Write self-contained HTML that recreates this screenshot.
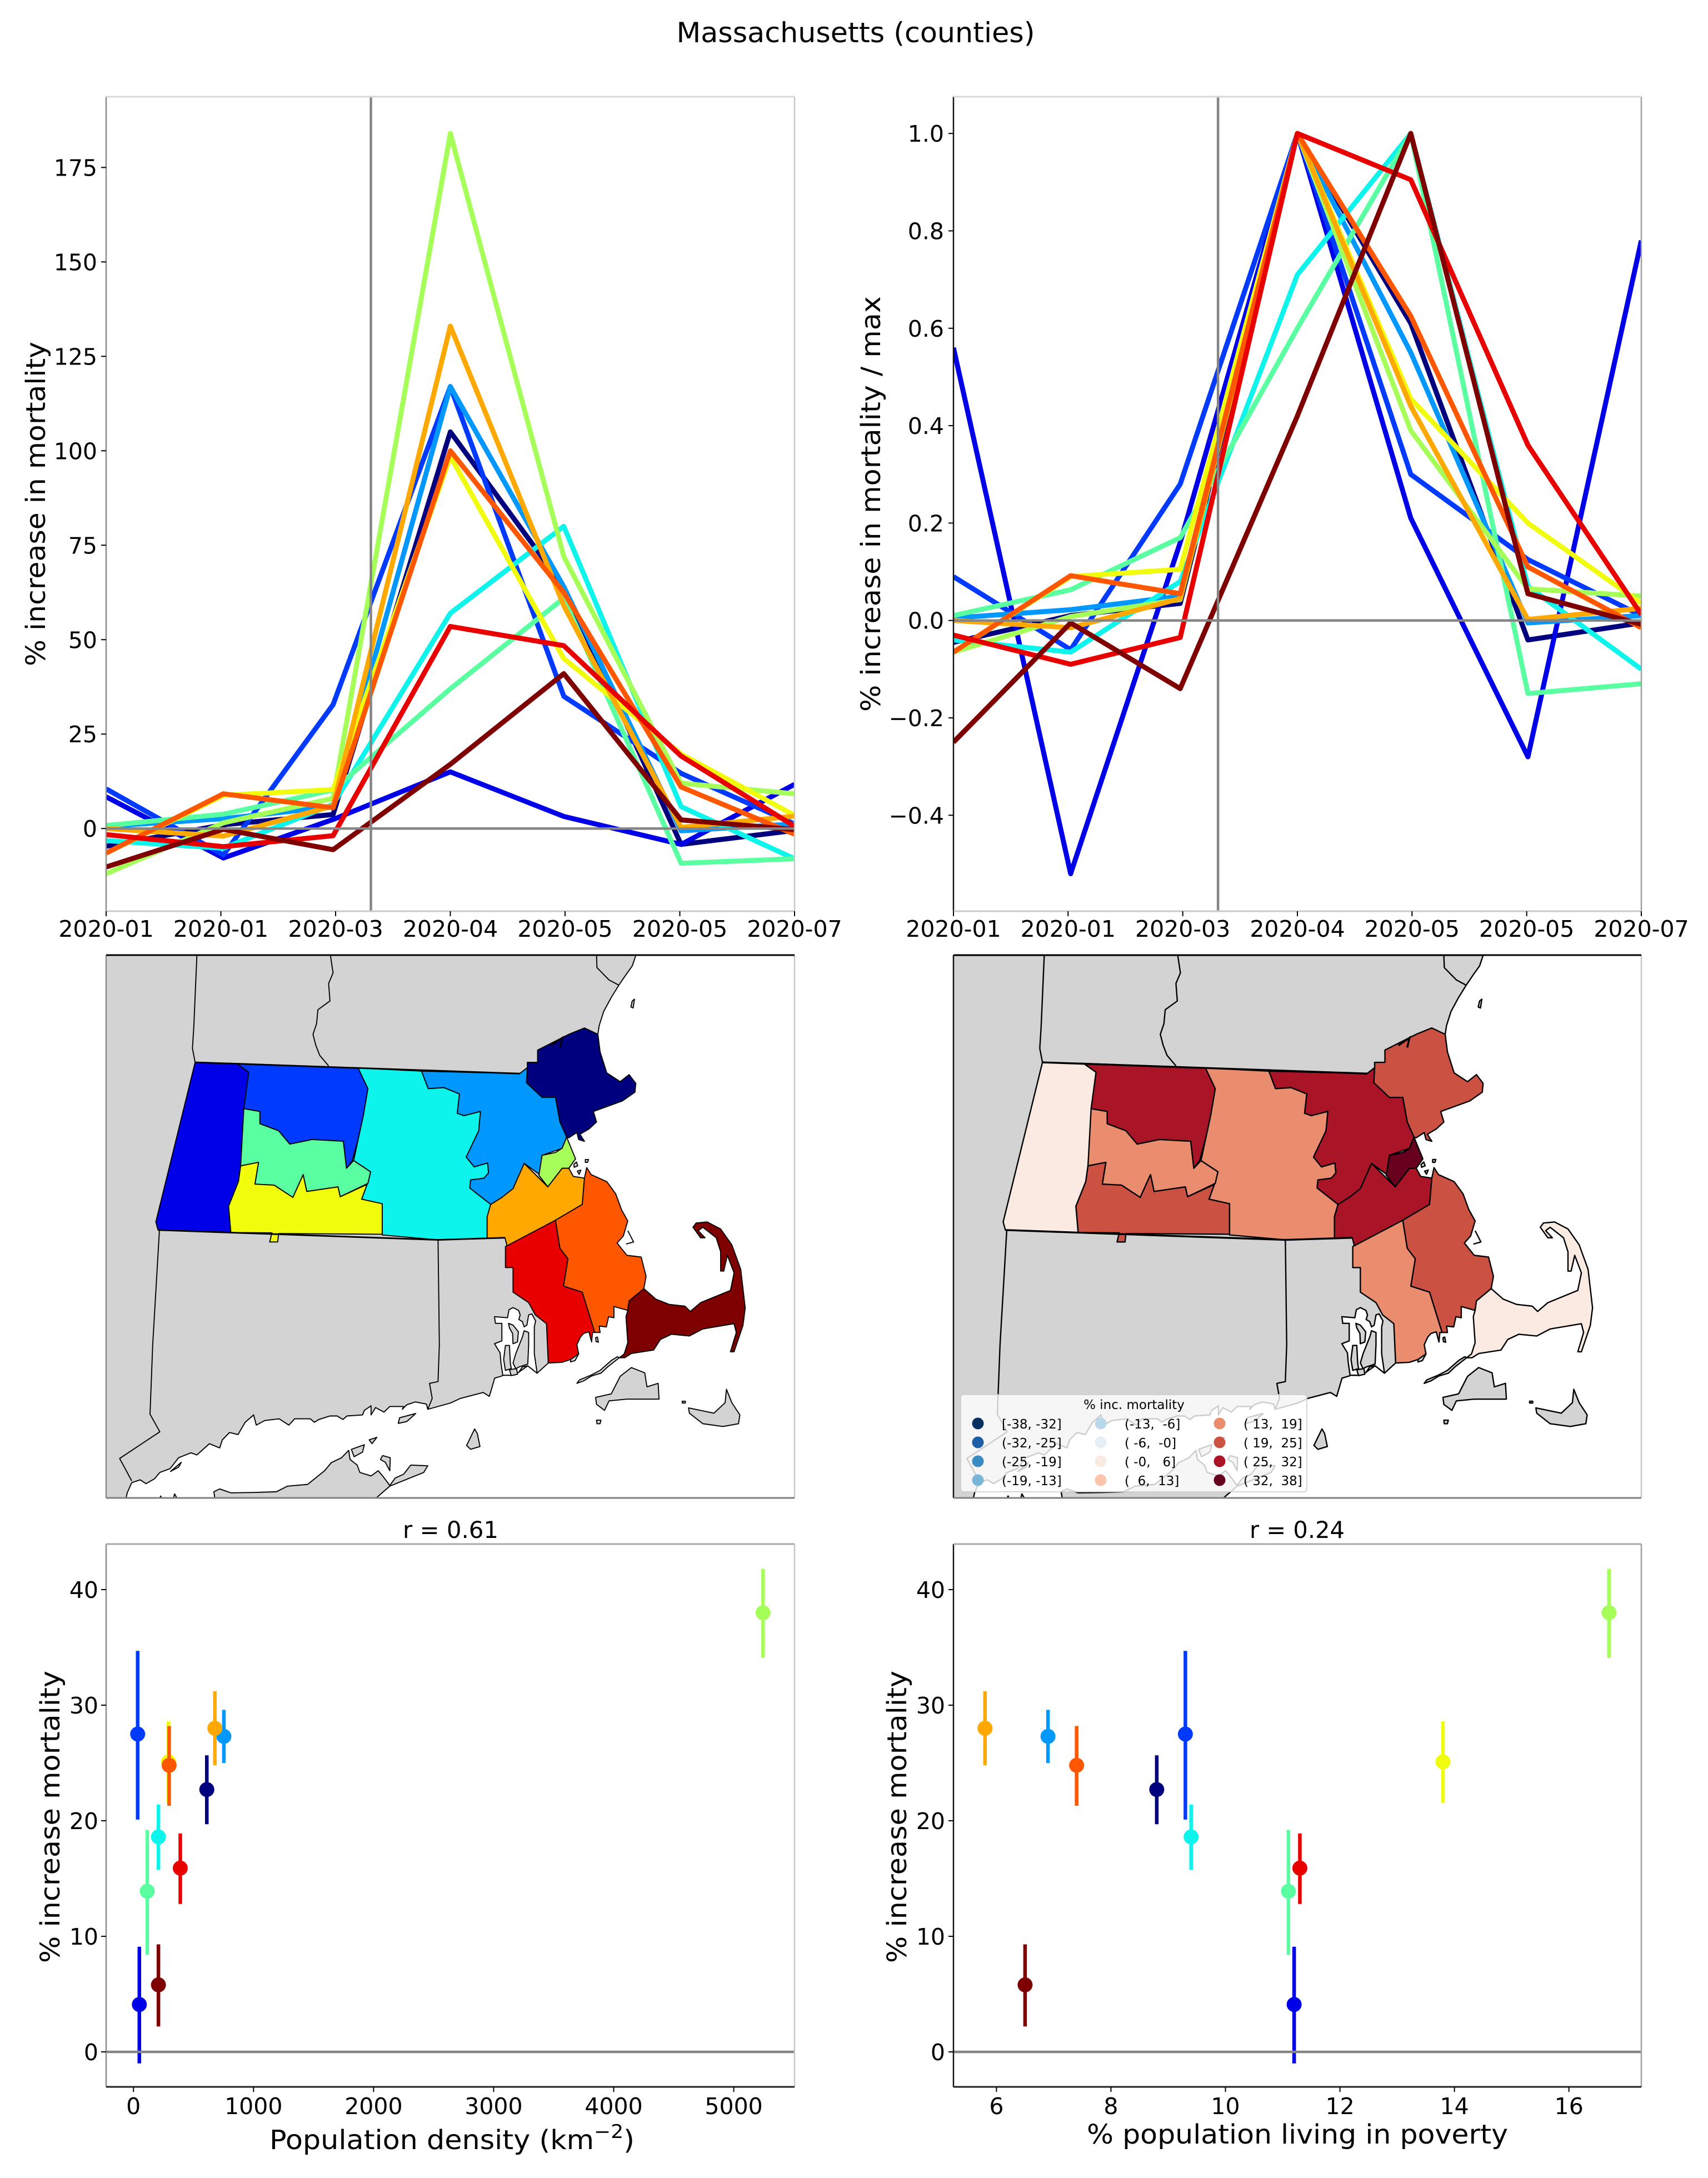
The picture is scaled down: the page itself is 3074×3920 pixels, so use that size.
<!DOCTYPE html>
<html lang="en">
<head>
<meta charset="utf-8">
<title>Massachusetts (counties)</title>
<style>
html,body{margin:0;padding:0;background:#fff;}
svg{display:block;}
text{font-family:"DejaVu Sans","Liberation Sans",sans-serif;fill:#000;}
</style>
</head>
<body>
<svg id="fig" xmlns="http://www.w3.org/2000/svg" width="3074" height="3920" viewBox="0 0 3074 3920">
  <defs>
    <clipPath id="clip-tl"><rect x="191" y="174" width="1239" height="1466"/></clipPath>
    <clipPath id="clip-tr"><rect x="1716" y="174" width="1238" height="1466"/></clipPath>
    <clipPath id="clip-ml"><rect x="191" y="1719" width="1239" height="977"/></clipPath>
    <clipPath id="clip-mr"><rect x="1716" y="1719" width="1238" height="977"/></clipPath>
  </defs>
  <rect x="0" y="0" width="3074" height="3920" fill="#fff"/>
  <text x="1540" y="76" font-size="50" text-anchor="middle" textLength="645" lengthAdjust="spacingAndGlyphs">Massachusetts (counties)</text>

  <g id="panel-tl"></g>
  <g id="panel-tr"></g>
  <g id="panel-ml"></g>
  <g id="panel-mr"></g>
  <g id="panel-bl"></g>
  <g id="panel-br"></g>

  <text transform="translate(81 1199) rotate(-90)" font-size="48" textLength="584" lengthAdjust="spacingAndGlyphs">% increase in mortality</text>
  <text transform="translate(1584 1281) rotate(-90)" font-size="48" textLength="748" lengthAdjust="spacingAndGlyphs">% increase in mortality / max</text>
  <text transform="translate(107 3533) rotate(-90)" font-size="48" textLength="526" lengthAdjust="spacingAndGlyphs">% increase mortality</text>
  <text transform="translate(1631 3533) rotate(-90)" font-size="48" textLength="526" lengthAdjust="spacingAndGlyphs">% increase mortality</text>
  <text x="485" y="3868" font-size="48" textLength="657" lengthAdjust="spacingAndGlyphs">Population density (km<tspan dy="-20" font-size="34">−2</tspan><tspan dy="20">)</tspan></text>
  <text x="1956" y="3858" font-size="48" textLength="758" lengthAdjust="spacingAndGlyphs">% population living in poverty</text>
  <text x="725" y="2768" font-size="42" textLength="172" lengthAdjust="spacingAndGlyphs">r = 0.61</text>
  <text x="2249" y="2768" font-size="42" textLength="171" lengthAdjust="spacingAndGlyphs">r = 0.24</text>
</svg>

<script>
// ---------- shared data ----------
const counties = ['essex','berkshire','franklin','middlesex','worcester','hampshire','suffolk','hampden','norfolk','plymouth','bristol','barnstable'];
const countyColors = ['#00007f','#0000e8','#003aff','#0097ff','#0cf4eb','#59ffa0','#a6ff59','#f1fc0c','#ffa800','#ff5700','#e80000','#7f0000'];

// days since 2020-01-01 of each monthly sample
const sampleDays = [0,31,60,91,121,152,182];
const xTickLabels = ['2020-01','2020-01','2020-03','2020-04','2020-05','2020-05','2020-07'];
const xTickDays = [0,30.33,60.67,91,121.33,151.67,182];
const emergencyDay = [70];

// top-left chart: % increase in mortality
const rawEssex      = [-4.7,1,3.7,105,64,-4.2,-0.5];
const rawBerkshire  = [8.4,-7.8,2.4,15,3.2,-4.2,11.7];
const rawFranklin   = [10.5,-7,32.8,117,35,14.6,1.2];
const rawMiddlesex  = [0.6,2.6,5.8,117,64,-0.6,1.2];
const rawWorcester  = [-3.2,-5.2,6.4,57,80,5.8,-8];
const rawHampshire  = [0.8,3.8,10.2,37,61,-9.2,-8];
const rawSuffolk    = [-12,1.5,8,184,72,12,9.2];
const rawHampden    = [-6.5,8.8,10.3,98.5,45,19.7,3.5];
const rawNorfolk    = [0,-2,6,133,59,0.3,3.3];
const rawPlymouth   = [-6.5,9.2,5.5,100,62.5,11,-1.5];
const rawBristol    = [-1.6,-4.8,-1.9,53.5,48.4,19.2,0.6];
const rawBarnstable = [-10.2,-0.2,-5.6,17,41,2.3,-0.3];
const rawSeries = [rawEssex,rawBerkshire,rawFranklin,rawMiddlesex,rawWorcester,rawHampshire,rawSuffolk,rawHampden,rawNorfolk,rawPlymouth,rawBristol,rawBarnstable];
const rawYTicks = [0,25,50,75,100,125,150,175];

// top-right chart: % increase in mortality / max
const normEssex      = [-0.045,0.01,0.035,1,0.61,-0.04,-0.005];
const normBerkshire  = [0.56,-0.52,0.16,1,0.21,-0.28,0.78];
const normFranklin   = [0.09,-0.06,0.28,1,0.3,0.125,0.01];
const normMiddlesex  = [0.005,0.022,0.05,1,0.55,-0.005,0.01];
const normWorcester  = [-0.04,-0.065,0.08,0.71,1,0.07,-0.1];
const normHampshire  = [0.01,0.063,0.17,0.6,1,-0.15,-0.13];
const normSuffolk    = [-0.065,0.008,0.043,1,0.39,0.065,0.05];
const normHampden    = [-0.065,0.09,0.105,1,0.455,0.2,0.035];
const normNorfolk    = [0,-0.015,0.045,1,0.44,0.002,0.025];
const normPlymouth   = [-0.065,0.092,0.055,1,0.625,0.11,-0.015];
const normBristol    = [-0.03,-0.09,-0.035,1,0.905,0.36,0.012];
const normBarnstable = [-0.25,-0.005,-0.14,0.42,1,0.055,-0.008];
const normSeries = [normEssex,normBerkshire,normFranklin,normMiddlesex,normWorcester,normHampshire,normSuffolk,normHampden,normNorfolk,normPlymouth,normBristol,normBarnstable];
const normYTicks = [-0.4,-0.2,0,0.2,0.4,0.6,0.8,1];

// scatter charts
const mortality     = [22.7,4.1,27.5,27.3,18.6,13.9,38,25.1,28,24.8,15.9,5.8];
const mortalityLow  = [19.7,-1,20.1,25,15.75,8.4,34.1,21.55,24.8,21.3,12.8,2.2];
const mortalityHigh = [25.66,9.1,34.7,29.6,21.4,19.2,41.8,28.6,31.2,28.2,18.9,9.3];
const density       = [611,49,35,753,208,115,5244,292,678,297,390,208];
const poverty       = [8.8,11.2,9.3,6.9,9.4,11.1,16.7,13.8,5.8,7.4,11.3,6.5];
const scatterYTicks = [0,10,20,30,40];
const densityTicks  = [0,1000,2000,3000,4000,5000];
const povertyTicks  = [6,8,10,12,14,16];

// choropleth legend
const binEdges = [-38,-31.67,-25.33,-19,-12.67,-6.33,0,6.33,12.67,19,25.33,31.67,38];
const binColors = ['#053061','#1c5ea8','#3a8bc2','#7ab6d9','#b9d8ea','#e6eff5','#fbeae2','#fcc5ab','#ea8d6e','#cb5143','#a91427','#67001f'];
const binLabels = ['[-38, -32]','(-32, -25]','(-25, -19]','(-19, -13]','(-13,  -6]','( -6,  -0]','( -0,   6]','(  6,  13]','( 13,  19]','( 19,  25]','( 25,  32]','( 32,  38]'];

// county outlines, in map units
const countyShapes = [
 'M957,335 L957,320 L980,320 L980,285 L1050,240 L1085,222 L1115,240 L1120,290 L1135,350 L1165,375 L1185,355 L1200,380 L1198,405 L1170,430 L1105,460 L1112,490 L1095,510 L1075,525 L1085,545 L1072,540 L1068,520 L1050,535 L1045,533 L1030,490 L1020,420 L990,420 L955,378 Z',
 'M213,320 L305,323 L333,348 L325,450 L315,615 L310,660 L288,730 L293,805 L130,798 L125,775 Z',
 'M305,323 L578,336 L600,395 L590,470 L578,540 L565,600 L552,622 L545,545 L475,540 L425,553 L400,515 L358,495 L358,460 L322,452 L333,348 Z',
 'M720,345 L940,352 L957,335 L955,378 L990,420 L1020,420 L1030,490 L1045,533 L1035,565 L990,585 L985,640 L950,608 L925,680 L900,705 L875,725 L828,678 L830,655 L860,650 L870,635 L868,607 L838,618 L820,590 L848,515 L852,460 L815,472 L800,465 L805,410 L770,392 L735,395 Z',
 'M578,336 L720,345 L735,395 L770,392 L805,410 L800,465 L815,472 L852,460 L848,515 L820,590 L838,618 L868,607 L870,635 L860,650 L830,655 L828,678 L875,725 L867,760 L867,822 L757,826 L632,812 L632,723 L586,710 L598,668 L606,632 L568,600 L590,470 L600,395 Z',
 'M322,452 L358,460 L358,495 L400,515 L425,553 L475,540 L545,545 L552,622 L568,600 L606,632 L600,665 L538,703 L533,675 L463,688 L455,640 L432,705 L390,670 L347,667 L355,605 L315,615 Z',
 'M1045,533 L1065,595 L1050,622 L1035,622 L1003,675 L983,642 L990,585 L1020,577 L1035,565 Z',
 'M315,615 L355,605 L347,667 L390,670 L432,705 L455,640 L463,688 L533,675 L538,703 L598,668 L586,710 L632,723 L632,810 L400,808 L398,832 L380,832 L385,806 L293,805 L288,730 L310,660 Z',
 'M950,608 L1003,675 L1035,622 L1050,622 L1060,645 L1085,650 L1080,725 L1020,770 L912,845 L907,820 L867,822 L867,760 L875,725 L900,705 L925,680 Z',
 'M1090,620 L1100,640 L1135,660 L1155,695 L1168,740 L1182,772 L1172,815 L1158,835 L1180,870 L1212,875 L1223,930 L1218,965 L1185,1000 L1182,1027 L1151,1016 L1151,1048 L1139,1045 L1134,1074 L1118,1072 L1120,1090 L1108,1090 L1080,975 L1038,958 L1048,880 L1030,850 L1020,770 L1080,725 L1085,650 Z',
 'M1020,770 L1030,850 L1048,880 L1038,958 L1080,975 L1108,1090 L1103,1090 L1101,1117 L1095,1088 L1083,1093 L1076,1103 L1068,1125 L1072,1151 L1054,1167 L1035,1175 L1004,1177 L1000,1065 L975,1040 L960,1005 L925,975 L925,905 L908,905 L908,845 Z',
 'M1218,965 L1245,995 L1275,1010 L1310,1015 L1322,1030 L1345,1005 L1412,970 L1420,920 L1405,870 L1397,915 L1390,915 L1390,860 L1380,820 L1350,790 L1340,800 L1355,820 L1345,820 L1328,790 L1335,778 L1360,775 L1390,795 L1415,840 L1435,910 L1445,1020 L1440,1070 L1420,1145 L1412,1145 L1425,1090 L1420,1065 L1350,1080 L1320,1100 L1280,1095 L1255,1110 L1240,1140 L1190,1150 L1175,1162 L1163,1162 L1174,1151 L1182,1119 L1178,1045 L1182,1027 L1185,1000 Z'
];

// surrounding land, water and state lines, in map units
const landShape = 'M14,15 L1200,15 L1192,45 L1178,70 L1162,100 L1145,135 L1128,175 L1118,215 L1115,240 L1000,500 L1000,1060 L1004,1177 L979,1206 L958,1185 L937,1204 L902,1212 L900,1214 L884,1220 L872,1272 L858,1261 L807,1278 L785,1291 L734,1309 L731,1294 L706,1288 L687,1296 L677,1309 L680,1301 L649,1301 L636,1317 L617,1304 L607,1325 L607,1299 L592,1312 L588,1325 L553,1328 L544,1338 L531,1328 L515,1328 L490,1338 L480,1346 L471,1336 L436,1336 L423,1354 L401,1336 L369,1341 L350,1354 L344,1325 L325,1346 L309,1381 L290,1375 L274,1396 L268,1419 L245,1407 L217,1439 L204,1433 L176,1447 L157,1478 L134,1489 L122,1507 L103,1521 L90,1510 L71,1518 L61,1547 L57,1570 L0,1570 L0,15 Z';
const bayShape = 'M883.5,1045 L912.6,1048 L916,1025 L925,1019 L937.5,1027 L941,1040 L938,1053 L946,1059 L950,1074 L956,1069 L960,1040 L967,1037 L975.6,1057 L972.7,1074 L972.7,1151 L979,1206 L958,1185 L946,1188 L937.5,1204 L919,1212 L902,1212 L898,1177 L896,1148 L883.5,1122 L900,1114 L900,1064 L885.6,1064 Z';
const waterHoles = [
 'M1050,595 L1065,595 L1085,625 L1087,645 L1070,652 L1050,622 Z'
];
const islandShapes = [
 'M950,1085 L960,1090 L960,1125 L958,1180 L939,1188 L931,1193 L925,1177 L931,1151 L946,1103 Z',
 'M908,1127 L917,1127 L919,1177 L921,1193 L908,1198 L904,1167 Z',
 'M915,1064 L925,1069 L937,1088 L935,1117 L925,1122 L924,1093 L917,1077 Z',
 'M917,1196 L933,1193 L935,1209 L921,1213 Z',
 'M1163,1162 L1137,1188 L1122,1206 L1101,1214 L1083,1228 L1068,1235 L1074,1225 L1099,1212 L1120,1198 L1145,1170 L1159,1159 Z',
 'M1054,1167 L1072,1151 L1064,1170 L1054,1174 Z',
 'M1190,1190 L1220,1205 L1225,1245 L1250,1235 L1252,1280 L1180,1280 L1140,1285 L1130,1312 L1112,1295 L1110,1275 L1145,1265 L1165,1215 Z',
 'M1403,1252 L1415,1290 L1433,1325 L1430,1350 L1395,1358 L1350,1350 L1320,1320 L1318,1305 L1375,1320 L1400,1290 Z',
 'M839,1365 L845,1378 L851,1415 L830,1423 L821,1412 Z',
 'M668,1349 L671,1333 L707,1321 L687,1344 Z',
 'M258,1570 L255,1544 L268,1536 L293,1547 L344,1546 L395,1544 L420,1528 L465,1523 L503,1484 L518,1461 L541,1447 L557,1426 L560,1452 L576,1468 L582,1489 L607,1499 L623,1484 L633,1499 L649,1526 L661,1505 L680,1494 L696,1468 L734,1470 L725,1489 L649,1528 L611,1570 Z',
 'M563,1423 L592,1410 L588,1431 L569,1444 Z',
 'M603,1396 L620,1389 L609,1407 Z',
 'M628,1452 L633,1441 L650,1447 L649,1484 L639,1460 Z',
 'M158,1486 L182,1460 L176,1474 Z',
 'M1112,1340 L1122,1340 L1120,1350 L1113,1350 Z',
 'M1304,1286 L1311,1286 L1311,1291 L1304,1291 Z',
 'M1192,145 L1197,140 L1194,165 L1189,162 Z',
 'M1061,611 L1067,604 L1070,615 L1062,619 Z',
 'M1087,597 L1094,597 L1092,605 L1087,605 Z',
 'M1069,630 L1077,627 L1073,639 Z',
 'M131,1570 L136,1556 L141,1570 Z',
 'M163,1570 L167,1550 L176,1570 Z',
 'M1110,1105 L1114,1103 L1116,1118 L1111,1116 Z'
];
const stateLines = [
 'M217,15 L210,220 L207,280 L213,320',
 'M516,15 L522,65 L512,95 L515,145 L488,170 L485,210 L477,240 L483,270 L492,300 L512,330',
 'M1112,15 L1113,50 L1140,85 L1162,100',
 'M133,800 L118,1125 L112,1323 L134,1373 L44,1449 L71,1513',
 'M757,820 L760,1125 L757,1230 L738,1235 L744,1278 L734,1309',
 'M1182,800 L1195,832 L1178,838'
];

// ---------- helpers ----------
const NS = 'http://www.w3.org/2000/svg';
function mk(tag, attrs, parent) {
  const el = document.createElementNS(NS, tag);
  for (const k in attrs) el.setAttribute(k, attrs[k]);
  parent.appendChild(el);
  return el;
}
function linear(d0, d1, r0, r1) {
  return function (v) { return r0 + (v - d0) * (r1 - r0) / (d1 - d0); };
}
function tickText(v) {
  return String(v).replace('-', '\u2212');
}

function drawXTicks(g, scale, ticks, labels, y0, baseline, size) {
  ticks.forEach(function (t, i) {
    const x = scale(t);
    const tick = mk('line', {x1:x, x2:x, y1:y0, y2:y0 + 9, stroke:'#000', 'stroke-width':2}, g);
    
    
    const label = mk('text', {x:x, y:baseline, 'font-size':size, 'text-anchor':'middle'}, g);
    
    
    label.textContent = labels[i];
  });
}
function drawYTicks(g, scale, ticks, labels, x0, labelRight, size) {
  ticks.forEach(function (t, i) {
    const y = scale(t);
    const tick = mk('line', {x1:x0 - 9, x2:x0, y1:y, y2:y, stroke:'#000', 'stroke-width':2}, g);
    
    
    const label = mk('text', {x:labelRight, y:y + 15, 'font-size':size, 'text-anchor':'end'}, g);
    
    
    label.textContent = labels[i];
  });
}
function drawSpines(g, L, T, R, B, colors) {
  const sides = [
    ['spine-left', L, T, L, B, colors.left, 2.5],
    ['spine-right', R, T, R, B, colors.right, 2.5],
    ['spine-top', L, T, R, T, colors.top, 3],
    ['spine-bottom', L, B, R, B, colors.bottom, 3]
  ];
  sides.forEach(function (s) {
    const line = mk('line', {x1:s[1], y1:s[2], x2:s[3], y2:s[4], stroke:s[5], 'stroke-width':s[6]}, g);
    
    
  });
}

// ---------- line charts ----------
function drawLineChart(id, L, R, clipId, series, yScale, yTicks, yLabels, labelRight, spineColors) {
  const g = document.getElementById(id);
  const T = 174, B = 1640;
  const xScale = linear(0, 182, L, R);
  const plot = mk('g', {'clip-path':'url(#' + clipId + ')'}, g);
  series.forEach(function (vals, c) {
    const pts = vals.map(function (v, i) { return xScale(sampleDays[i]).toFixed(1) + ',' + yScale(v).toFixed(1); }).join(' ');
    const line = mk('polyline', {points:pts, fill:'none', stroke:countyColors[c], 'stroke-width':9, 'stroke-linejoin':'round'}, plot);
    
    
  });
  const zero = mk('line', {x1:L, x2:R, y1:yScale(0), y2:yScale(0), stroke:'#858585', 'stroke-width':4.5}, plot);
  
  
  const vx = xScale(emergencyDay[0]);
  const vline = mk('line', {x1:vx, x2:vx, y1:T, y2:B, stroke:'#858585', 'stroke-width':4.5}, plot);
  
  
  drawSpines(g, L, T, R, B, spineColors);
  drawXTicks(g, xScale, xTickDays, xTickLabels, B, 1686, 41);
  drawYTicks(g, yScale, yTicks, yLabels, L, labelRight, 41);
}
drawLineChart('panel-tl', 191, 1430, 'clip-tl', rawSeries, linear(0, 175, 1491.2, 301.4), rawYTicks, rawYTicks.map(tickText), 175,
  {left:'#8c8c8c', right:'#c8c8c8', top:'#d8d8d8', bottom:'#c8c8c8'});
drawLineChart('panel-tr', 1716, 2954, 'clip-tr', normSeries, linear(0, 1, 1116.7, 240.2), normYTicks, normYTicks.map(function (v) { return tickText(v.toFixed(1)); }), 1699,
  {left:'#111', right:'#a0a0a0', top:'#d8d8d8', bottom:'#c8c8c8'});

// ---------- maps ----------
function binColor(v) {
  for (let i = 0; i < binColors.length; i++) {
    if (v <= binEdges[i + 1]) return binColors[i];
  }
  return binColors[binColors.length - 1];
}
function drawMap(id, clipId, tx, strokeW, fillFor, spineColors, L, R) {
  const g = document.getElementById(id);
  const outer = mk('g', {'clip-path':'url(#' + clipId + ')'}, g);
  const m = mk('g', {transform:'translate(' + tx + ' 1710) scale(0.8036 0.6314)'}, outer);
  function shape(d, fill, sw, name) {
    const p = mk('path', {d:d, fill:fill, stroke:'#000', 'stroke-width':sw, 'vector-effect':'non-scaling-stroke', 'stroke-linejoin':'round'}, m);
    
    
    return p;
  }
  shape(landShape, '#d3d3d3', strokeW, 'neighbouring-land');
  shape(bayShape, '#fff', strokeW, 'narragansett-bay');
  waterHoles.forEach(function (d) {
    const hole = mk('path', {d:d, fill:'#fff', stroke:'none'}, m);
    
    
  });
  islandShapes.forEach(function (d) { shape(d, '#d3d3d3', strokeW, 'island'); });
  stateLines.forEach(function (d) { shape(d, 'none', strokeW, 'state-border'); });
  countyShapes.forEach(function (d, c) { shape(d, fillFor(c), strokeW, 'county-' + counties[c]); });
  const border = mk('path', {d:'M213,320 L940,352 M130,798 L757,826 L907,820 M1010,272 L1035,250 L1030,278', fill:'none', stroke:'#000', 'stroke-width':strokeW + 1, 'vector-effect':'non-scaling-stroke'}, m);
  
  
  drawSpines(g, L, 1719, R, 2696, spineColors);
}
drawMap('panel-ml', 'clip-ml', 180, 1.9, function (c) { return countyColors[c]; },
  {left:'#8c8c8c', right:'#c8c8c8', top:'#000', bottom:'#808080'}, 191, 1430);
drawMap('panel-mr', 'clip-mr', 1705, 2.4, function (c) { return binColor(mortality[c]); },
  {left:'#111', right:'#c8c8c8', top:'#000', bottom:'#808080'}, 1716, 2954);

// ---------- choropleth legend ----------
(function () {
  const g = mk('g', {}, document.getElementById('panel-mr'));
  
  
  const box = mk('rect', {x:1729, y:2510, width:623, height:175, rx:5, fill:'#fff', 'fill-opacity':0.8, stroke:'#ccc', 'stroke-opacity':0.8, 'stroke-width':2}, g);
  
  
  const title = mk('text', {x:2041, y:2536, 'font-size':23, 'text-anchor':'middle'}, g);
  
  
  title.textContent = '% inc. mortality';
  const colMarker = [1760, 1981, 2195];
  const colText = [1803, 2024, 2238];
  binLabels.forEach(function (lab, i) {
    const col = Math.floor(i / 4), row = i % 4;
    const y = 2562 + row * 34;
    const dot = mk('ellipse', {cx:colMarker[col], cy:y, rx:10.5, ry:10.5, fill:binColors[i]}, g);
    
    
    const t = mk('text', {x:colText[col], y:y + 9, 'font-size':23, 'xml:space':'preserve', style:'white-space:pre'}, g);
    
    
    t.textContent = lab;
  });
})();

// ---------- scatter charts ----------
function drawScatter(id, L, R, xValues, xScale, xTicks, labelRight, spineColors) {
  const g = document.getElementById(id);
  const T = 2779, B = 3756;
  const yScale = linear(0, 40, 3693, 2861);
  const plot = mk('g', {}, g);
  xValues.forEach(function (xv, c) {
    const x = xScale(xv);
    const bar = mk('line', {x1:x, x2:x, y1:yScale(mortalityLow[c]), y2:yScale(mortalityHigh[c]), stroke:countyColors[c], 'stroke-width':6.5}, plot);
    
    
    const dot = mk('circle', {cx:x, cy:yScale(mortality[c]), r:13.5, fill:countyColors[c]}, plot);
    
    
  });
  const zero = mk('line', {x1:L, x2:R, y1:yScale(0), y2:yScale(0), stroke:'#858585', 'stroke-width':4.5}, plot);
  
  
  drawSpines(g, L, T, R, B, spineColors);
  drawXTicks(g, xScale, xTicks, xTicks.map(String), B, 3805, 41);
  drawYTicks(g, yScale, scatterYTicks, scatterYTicks.map(String), L, labelRight, 41);
}
drawScatter('panel-bl', 191, 1430, density, linear(0, 5000, 240.2, 1320.6), densityTicks, 177,
  {left:'#8c8c8c', right:'#c8c8c8', top:'#aaa', bottom:'#222'});
drawScatter('panel-br', 1716, 2954, poverty, linear(6, 16, 1793.4, 2823.7), povertyTicks, 1701,
  {left:'#111', right:'#a0a0a0', top:'#aaa', bottom:'#222'});
</script>
</body>
</html>
